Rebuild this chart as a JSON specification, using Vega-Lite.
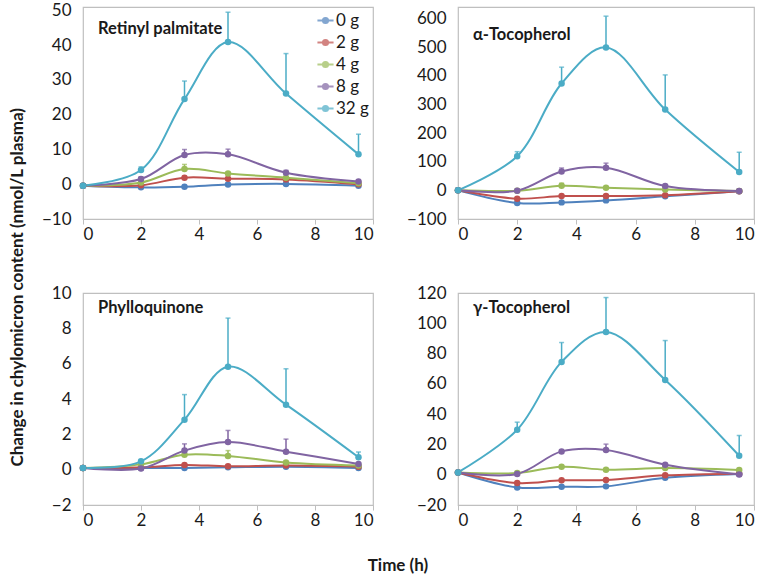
{
  "$schema": "https://vega.github.io/schema/vega-lite/v6.json",
  "background": "white",
  "padding": {"left": 8, "top": 0, "right": 4, "bottom": 4},
  "config": {
    "font": "Lato",
    "view": {"stroke": "#BFBFBF", "strokeWidth": 1.2},
    "axis": {"grid": false, "domain": false, "labelFont": "Lato", "labelFontSize": 17, "labelColor": "#1a1a1a", "tickColor": "#BFBFBF"},
    "axisX": {"tickSize": 5, "labelPadding": 2},
    "axisY": {"ticks": false, "labelPadding": 12},
    "title": {"font": "Lato", "color": "#1a1a1a"}
  },
  "datasets": {
    "retinyl": [
      {"time": 0, "dose": "0 g", "value": -0.4}, {"time": 2, "dose": "0 g", "value": -0.9}, {"time": 3.5, "dose": "0 g", "value": -0.7}, {"time": 5, "dose": "0 g", "value": -0.1}, {"time": 7, "dose": "0 g", "value": 0.1}, {"time": 9.5, "dose": "0 g", "value": -0.4},
      {"time": 0, "dose": "2 g", "value": -0.4}, {"time": 2, "dose": "2 g", "value": -0.3}, {"time": 3.5, "dose": "2 g", "value": 1.9}, {"time": 5, "dose": "2 g", "value": 1.6}, {"time": 7, "dose": "2 g", "value": 1.4}, {"time": 9.5, "dose": "2 g", "value": 0},
      {"time": 0, "dose": "4 g", "value": -0.4}, {"time": 2, "dose": "4 g", "value": 0.5}, {"time": 3.5, "dose": "4 g", "value": 4.4, "upper": 5.7}, {"time": 5, "dose": "4 g", "value": 3.1}, {"time": 7, "dose": "4 g", "value": 1.9}, {"time": 9.5, "dose": "4 g", "value": 0.3},
      {"time": 0, "dose": "8 g", "value": -0.4}, {"time": 2, "dose": "8 g", "value": 1.5, "upper": 2.1}, {"time": 3.5, "dose": "8 g", "value": 8.4, "upper": 10.0}, {"time": 5, "dose": "8 g", "value": 8.6, "upper": 10.1}, {"time": 7, "dose": "8 g", "value": 3.3, "upper": 4.0}, {"time": 9.5, "dose": "8 g", "value": 0.8},
      {"time": 0, "dose": "32 g", "value": -0.4}, {"time": 2, "dose": "32 g", "value": 4.1, "upper": 5.0}, {"time": 3.5, "dose": "32 g", "value": 24.5, "upper": 29.7}, {"time": 5, "dose": "32 g", "value": 40.9, "upper": 49.5}, {"time": 7, "dose": "32 g", "value": 26.1, "upper": 37.6}, {"time": 9.5, "dose": "32 g", "value": 8.6, "upper": 14.4}
    ],
    "alpha": [
      {"time": 0, "dose": "0 g", "value": 0}, {"time": 2, "dose": "0 g", "value": -44}, {"time": 3.5, "dose": "0 g", "value": -42}, {"time": 5, "dose": "0 g", "value": -35}, {"time": 7, "dose": "0 g", "value": -21}, {"time": 9.5, "dose": "0 g", "value": -3},
      {"time": 0, "dose": "2 g", "value": 0}, {"time": 2, "dose": "2 g", "value": -29}, {"time": 3.5, "dose": "2 g", "value": -20}, {"time": 5, "dose": "2 g", "value": -20}, {"time": 7, "dose": "2 g", "value": -17}, {"time": 9.5, "dose": "2 g", "value": -3},
      {"time": 0, "dose": "4 g", "value": 0}, {"time": 2, "dose": "4 g", "value": -1}, {"time": 3.5, "dose": "4 g", "value": 16, "upper": 25}, {"time": 5, "dose": "4 g", "value": 9}, {"time": 7, "dose": "4 g", "value": 3}, {"time": 9.5, "dose": "4 g", "value": -2},
      {"time": 0, "dose": "8 g", "value": 0}, {"time": 2, "dose": "8 g", "value": -1}, {"time": 3.5, "dose": "8 g", "value": 66, "upper": 78}, {"time": 5, "dose": "8 g", "value": 79, "upper": 95}, {"time": 7, "dose": "8 g", "value": 15}, {"time": 9.5, "dose": "8 g", "value": -2},
      {"time": 0, "dose": "32 g", "value": 0}, {"time": 2, "dose": "32 g", "value": 119, "upper": 135}, {"time": 3.5, "dose": "32 g", "value": 373, "upper": 430}, {"time": 5, "dose": "32 g", "value": 499, "upper": 608}, {"time": 7, "dose": "32 g", "value": 282, "upper": 403}, {"time": 9.5, "dose": "32 g", "value": 64, "upper": 133}
    ],
    "phyllo": [
      {"time": 0, "dose": "0 g", "value": 0.1}, {"time": 2, "dose": "0 g", "value": 0.1}, {"time": 3.5, "dose": "0 g", "value": 0.1}, {"time": 5, "dose": "0 g", "value": 0.13}, {"time": 7, "dose": "0 g", "value": 0.17}, {"time": 9.5, "dose": "0 g", "value": 0.1},
      {"time": 0, "dose": "2 g", "value": 0.1}, {"time": 2, "dose": "2 g", "value": 0.13}, {"time": 3.5, "dose": "2 g", "value": 0.27}, {"time": 5, "dose": "2 g", "value": 0.19}, {"time": 7, "dose": "2 g", "value": 0.23}, {"time": 9.5, "dose": "2 g", "value": 0.17},
      {"time": 0, "dose": "4 g", "value": 0.1}, {"time": 2, "dose": "4 g", "value": 0.3}, {"time": 3.5, "dose": "4 g", "value": 0.85}, {"time": 5, "dose": "4 g", "value": 0.78, "upper": 1.08}, {"time": 7, "dose": "4 g", "value": 0.4}, {"time": 9.5, "dose": "4 g", "value": 0.23},
      {"time": 0, "dose": "8 g", "value": 0.1}, {"time": 2, "dose": "8 g", "value": 0.06}, {"time": 3.5, "dose": "8 g", "value": 1.08, "upper": 1.46}, {"time": 5, "dose": "8 g", "value": 1.56, "upper": 2.22}, {"time": 7, "dose": "8 g", "value": 1.02, "upper": 1.73}, {"time": 9.5, "dose": "8 g", "value": 0.32},
      {"time": 0, "dose": "32 g", "value": 0.1}, {"time": 2, "dose": "32 g", "value": 0.47}, {"time": 3.5, "dose": "32 g", "value": 2.83, "upper": 4.25}, {"time": 5, "dose": "32 g", "value": 5.83, "upper": 8.58}, {"time": 7, "dose": "32 g", "value": 3.68, "upper": 5.71}, {"time": 9.5, "dose": "32 g", "value": 0.7, "upper": 1.0}
    ],
    "gamma": [
      {"time": 0, "dose": "0 g", "value": 1.5}, {"time": 2, "dose": "0 g", "value": -8.4}, {"time": 3.5, "dose": "0 g", "value": -7.9}, {"time": 5, "dose": "0 g", "value": -7.7}, {"time": 7, "dose": "0 g", "value": -2}, {"time": 9.5, "dose": "0 g", "value": 0.5},
      {"time": 0, "dose": "2 g", "value": 1.5}, {"time": 2, "dose": "2 g", "value": -5.5}, {"time": 3.5, "dose": "2 g", "value": -3.7}, {"time": 5, "dose": "2 g", "value": -3.5}, {"time": 7, "dose": "2 g", "value": -0.4}, {"time": 9.5, "dose": "2 g", "value": 0.7},
      {"time": 0, "dose": "4 g", "value": 1.5}, {"time": 2, "dose": "4 g", "value": 1.1}, {"time": 3.5, "dose": "4 g", "value": 5.3}, {"time": 5, "dose": "4 g", "value": 3.3}, {"time": 7, "dose": "4 g", "value": 4.4}, {"time": 9.5, "dose": "4 g", "value": 3.1},
      {"time": 0, "dose": "8 g", "value": 1.5}, {"time": 2, "dose": "8 g", "value": 0.5}, {"time": 3.5, "dose": "8 g", "value": 15.4}, {"time": 5, "dose": "8 g", "value": 16.3, "upper": 20.2}, {"time": 7, "dose": "8 g", "value": 6.6}, {"time": 9.5, "dose": "8 g", "value": 0.2},
      {"time": 0, "dose": "32 g", "value": 1.5}, {"time": 2, "dose": "32 g", "value": 29.7, "upper": 34.7}, {"time": 3.5, "dose": "32 g", "value": 74.5, "upper": 87.3}, {"time": 5, "dose": "32 g", "value": 94.3, "upper": 117}, {"time": 7, "dose": "32 g", "value": 62.6, "upper": 88.6}, {"time": 9.5, "dose": "32 g", "value": 12.5, "upper": 25.9}
    ]
  },
  "title": {"text": "Change in chylomicron content (nmol/L plasma)", "orient": "left", "anchor": "middle", "fontSize": 17, "fontWeight": "bold", "offset": 14},
  "vconcat": [
    {
      "title": {"text": "Time (h)", "orient": "bottom", "anchor": "middle", "fontSize": 17, "fontWeight": "bold", "offset": 29},
      "columns": 2,
      "spacing": {"column": 30, "row": 40},
      "resolve": {"scale": {"color": "independent"}, "legend": {"color": "independent"}},
      "concat": [
        {
          "title": {"text": "Retinyl palmitate", "anchor": "start", "frame": "group", "offset": 0, "dx": 15, "dy": 36, "fontSize": 16.5, "fontWeight": "bold"},
          "width": 290, "height": 212,
          "data": {"name": "retinyl"},
          "encoding": {
            "x": {"field": "time", "type": "quantitative", "scale": {"domain": [0, 10], "nice": false}, "axis": {"values": [0, 2, 4, 6, 8, 10], "title": null}},
            "y": {"field": "value", "type": "quantitative", "scale": {"domain": [-10, 51], "nice": false}, "axis": {"values": [-10, 0, 10, 20, 30, 40, 50], "title": null}},
            "color": {"field": "dose", "type": "nominal", "scale": {"domain": ["0 g", "2 g", "4 g", "8 g", "32 g"], "range": ["#4F81BD", "#C0504D", "#9BBB59", "#8064A2", "#4BACC6"]},
              "legend": {"orient": "top-right", "title": null, "offset": 4, "padding": 0, "labelFontSize": 17, "labelFont": "Lato", "labelColor": "#1a1a1a", "rowPadding": 4, "labelOffset": 1,
                "symbolType": "M-1,0H1M-0.32,0A0.32,0.32,0,1,0,0.32,0A0.32,0.32,0,1,0,-0.32,0Z", "symbolSize": 260, "symbolStrokeWidth": 2}}
          },
          "layer": [
            {"mark": {"type": "line", "interpolate": "catmull-rom", "strokeWidth": 2}},
            {"transform": [{"filter": "datum.upper != null"}], "mark": {"type": "rule", "strokeWidth": 1.5}, "encoding": {"y2": {"field": "upper"}}},
            {"transform": [{"filter": "datum.upper != null"}], "mark": {"type": "tick", "orient": "horizontal", "size": 5, "thickness": 1.5}, "encoding": {"y": {"field": "upper", "type": "quantitative"}}},
            {"mark": {"type": "point", "filled": true, "size": 42, "opacity": 1}}
          ]
        },
        {
          "title": {"text": "α-Tocopherol", "anchor": "start", "frame": "group", "offset": 0, "dx": 15, "dy": 36, "fontSize": 16.5, "fontWeight": "bold"},
          "width": 296, "height": 212,
          "data": {"name": "alpha"},
          "encoding": {
            "x": {"field": "time", "type": "quantitative", "scale": {"domain": [0, 10], "nice": false}, "axis": {"values": [0, 2, 4, 6, 8, 10], "title": null}},
            "y": {"field": "value", "type": "quantitative", "scale": {"domain": [-100, 640], "nice": false}, "axis": {"values": [-100, 0, 100, 200, 300, 400, 500, 600], "title": null}},
            "color": {"field": "dose", "type": "nominal", "scale": {"domain": ["0 g", "2 g", "4 g", "8 g", "32 g"], "range": ["#4F81BD", "#C0504D", "#9BBB59", "#8064A2", "#4BACC6"]}, "legend": null}
          },
          "layer": [
            {"mark": {"type": "line", "interpolate": "catmull-rom", "strokeWidth": 2}},
            {"transform": [{"filter": "datum.upper != null"}], "mark": {"type": "rule", "strokeWidth": 1.5}, "encoding": {"y2": {"field": "upper"}}},
            {"transform": [{"filter": "datum.upper != null"}], "mark": {"type": "tick", "orient": "horizontal", "size": 5, "thickness": 1.5}, "encoding": {"y": {"field": "upper", "type": "quantitative"}}},
            {"mark": {"type": "point", "filled": true, "size": 42, "opacity": 1}}
          ]
        },
        {
          "title": {"text": "Phylloquinone", "anchor": "start", "frame": "group", "offset": 0, "dx": 15, "dy": 32, "fontSize": 16.5, "fontWeight": "bold"},
          "width": 290, "height": 212,
          "data": {"name": "phyllo"},
          "encoding": {
            "x": {"field": "time", "type": "quantitative", "scale": {"domain": [0, 10], "nice": false}, "axis": {"values": [0, 2, 4, 6, 8, 10], "title": null}},
            "y": {"field": "value", "type": "quantitative", "scale": {"domain": [-2, 10], "nice": false}, "axis": {"values": [-2, 0, 2, 4, 6, 8, 10], "title": null}},
            "color": {"field": "dose", "type": "nominal", "scale": {"domain": ["0 g", "2 g", "4 g", "8 g", "32 g"], "range": ["#4F81BD", "#C0504D", "#9BBB59", "#8064A2", "#4BACC6"]}, "legend": null}
          },
          "layer": [
            {"mark": {"type": "line", "interpolate": "catmull-rom", "strokeWidth": 2}},
            {"transform": [{"filter": "datum.upper != null"}], "mark": {"type": "rule", "strokeWidth": 1.5}, "encoding": {"y2": {"field": "upper"}}},
            {"transform": [{"filter": "datum.upper != null"}], "mark": {"type": "tick", "orient": "horizontal", "size": 5, "thickness": 1.5}, "encoding": {"y": {"field": "upper", "type": "quantitative"}}},
            {"mark": {"type": "point", "filled": true, "size": 42, "opacity": 1}}
          ]
        },
        {
          "title": {"text": "γ-Tocopherol", "anchor": "start", "frame": "group", "offset": 0, "dx": 15, "dy": 32, "fontSize": 16.5, "fontWeight": "bold"},
          "width": 296, "height": 212,
          "data": {"name": "gamma"},
          "encoding": {
            "x": {"field": "time", "type": "quantitative", "scale": {"domain": [0, 10], "nice": false}, "axis": {"values": [0, 2, 4, 6, 8, 10], "title": null}},
            "y": {"field": "value", "type": "quantitative", "scale": {"domain": [-20, 120], "nice": false}, "axis": {"values": [-20, 0, 20, 40, 60, 80, 100, 120], "title": null}},
            "color": {"field": "dose", "type": "nominal", "scale": {"domain": ["0 g", "2 g", "4 g", "8 g", "32 g"], "range": ["#4F81BD", "#C0504D", "#9BBB59", "#8064A2", "#4BACC6"]}, "legend": null}
          },
          "layer": [
            {"mark": {"type": "line", "interpolate": "catmull-rom", "strokeWidth": 2}},
            {"transform": [{"filter": "datum.upper != null"}], "mark": {"type": "rule", "strokeWidth": 1.5}, "encoding": {"y2": {"field": "upper"}}},
            {"transform": [{"filter": "datum.upper != null"}], "mark": {"type": "tick", "orient": "horizontal", "size": 5, "thickness": 1.5}, "encoding": {"y": {"field": "upper", "type": "quantitative"}}},
            {"mark": {"type": "point", "filled": true, "size": 42, "opacity": 1}}
          ]
        }
      ]
    }
  ]
}
